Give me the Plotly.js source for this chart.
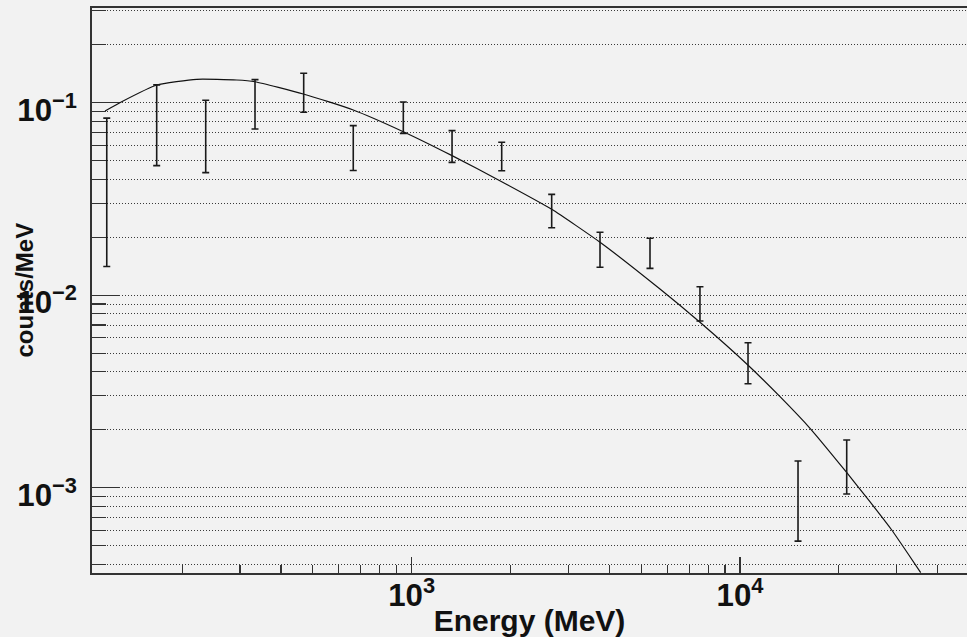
<!DOCTYPE html>
<html>
<head>
<meta charset="utf-8">
<script src="https://cdn.plot.ly/plotly-3.0.1.min.js"></script>
<style>
  html, body { margin: 0; padding: 0; background: #f2f2f2; }
  #chart { width: 967px; height: 637px; }
</style>
</head>
<body>
<div id="chart"></div>
<script>
// Measured spectrum: bin centres (MeV), flux (counts/MeV) and symmetric 1-sigma errors
const energy  = [117.8, 167.2, 235.8, 333.2, 468.8, 663.7, 942.8, 1327, 1880, 2669, 3746, 5319, 7551, 10578, 15021, 21135];
const flux    = [0.0486, 0.0854, 0.0731, 0.1024, 0.1157, 0.0602, 0.0851, 0.0603, 0.0533, 0.0279, 0.01759, 0.01677, 0.00920, 0.004567, 0.000952, 0.001349];
const fluxErr = [0.0345, 0.0383, 0.0298, 0.0294, 0.0265, 0.0158, 0.0158, 0.0113, 0.0090, 0.0055, 0.00363, 0.00298, 0.00186, 0.001097, 0.000424, 0.000421];

// Fitted spectral model, sampled along the curve
const modelEnergy = [116.4, 130.8, 167.2, 221.3, 293.1, 333.2, 467.5, 663.7, 942.8, 1327, 1880, 2669, 3746, 5705, 7551, 10525, 13240, 16340, 21033, 24596, 28982, 32950, 35510];
const modelFlux   = [0.0906, 0.1012, 0.1236, 0.1323, 0.1312, 0.1285, 0.1110, 0.0917, 0.0707, 0.0531, 0.03887, 0.02794, 0.01884, 0.01076, 0.007231, 0.004365, 0.002970, 0.002035, 0.001211, 0.000867, 0.000603, 0.000438, 0.000362];

// Axis labels
const xTitle = 'Energy (MeV)';
const yTitle = 'counts/MeV';

const ink = '#333333';
const family = 'Liberation Sans, Arial, sans-serif';
const labelFont = { family: family, size: 25, weight: 'bold', color: '#111111' };
const titleFontX = { family: family, size: 30, weight: 'bold', color: '#111111' };
const titleFontY = { family: family, size: 24, weight: 'bold', color: '#111111' };
const gridDash = '1px,2px';
const gridColor = '#3a3a3a';

const traces = [
  {
    type: 'scatter',
    mode: 'lines',
    x: modelEnergy,
    y: modelFlux,
    line: { color: '#111111', width: 1.2, shape: 'spline', smoothing: 0.5 },
    hoverinfo: 'skip'
  },
  {
    type: 'scatter',
    mode: 'markers',
    x: energy,
    y: flux,
    marker: { size: 2, color: 'rgba(0,0,0,0)' },
    error_y: { type: 'data', array: fluxErr, symmetric: true, color: '#1a1a1a', thickness: 1.6, width: 3.5 }
  }
];

const layout = {
  width: 967,
  height: 637,
  margin: { l: 92, r: 0, t: 8, b: 64, pad: 0 },
  paper_bgcolor: '#f2f2f2',
  plot_bgcolor: '#f2f2f2',
  showlegend: false,
  xaxis: {
    type: 'log',
    range: [2.0262, 4.6914],
    dtick: 1,
    exponentformat: 'power',
    showexponent: 'all',
    ticks: 'inside',
    ticklen: 16,
    tickwidth: 1.2,
    tickcolor: ink,
    showline: true,
    linecolor: ink,
    linewidth: 2,
    mirror: true,
    showgrid: false,
    zeroline: false,
    tickfont: labelFont,
    ticklabelstandoff: -5,
    minor: { dtick: 'D1', ticks: 'inside', ticklen: 8, tickwidth: 1.2, tickcolor: ink, showgrid: false },
    title: { text: xTitle, font: titleFontX, standoff: 4 },
    automargin: false
  },
  yaxis: {
    type: 'log',
    range: [-3.4431, -0.5081],
    dtick: 1,
    exponentformat: 'power',
    showexponent: 'all',
    ticks: 'inside',
    ticklen: 27,
    tickwidth: 1.2,
    tickcolor: ink,
    showline: true,
    linecolor: ink,
    linewidth: 2,
    mirror: false,
    showgrid: true,
    gridcolor: gridColor,
    gridwidth: 1,
    griddash: gridDash,
    zeroline: false,
    tickfont: labelFont,
    ticklabelstandoff: 8,
    ticklabelshift: 7,
    minor: { dtick: 'D1', ticks: 'inside', ticklen: 14, tickwidth: 1.2, tickcolor: ink,
             showgrid: true, gridcolor: gridColor, gridwidth: 1, griddash: gridDash },
    automargin: false
  },
  annotations: [
    {
      text: yTitle,
      font: titleFontY,
      textangle: -90,
      xref: 'paper', yref: 'paper',
      x: (24 - 92) / 875, y: 0.5,
      xanchor: 'center', yanchor: 'middle',
      showarrow: false
    }
  ]
};

Plotly.newPlot('chart', traces, layout, { displayModeBar: false, staticPlot: true });
</script>
</body>
</html>
